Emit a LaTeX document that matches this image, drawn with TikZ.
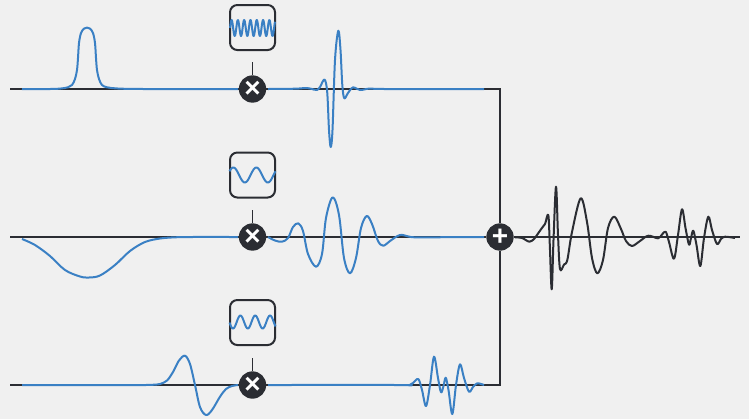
\documentclass[tikz,border=0pt]{standalone}
\usepackage{fontspec}
\setmainfont{Liberation Sans}
\usetikzlibrary{backgrounds}
\definecolor{bgc}{HTML}{F0F0F0}
\definecolor{ink}{HTML}{2B2D33}
\definecolor{wave}{HTML}{3A80C4}
\tikzset{
  opnode/.style={circle,fill=ink,text=white,inner sep=0pt,minimum size=20.5pt,font=\fontsize{21}{21}\bfseries},
  carrier/.style={draw=ink,line width=1.5pt,rounded corners=5.5pt,minimum size=33.75pt,inner sep=0pt,fill=bgc},
  wire/.style={draw=ink,line width=1.4pt},
  sig/.style={draw=wave,line width=1.5pt,line join=round,smooth,tension=0.55},
  outsig/.style={draw=ink,line width=1.5pt,line join=round,smooth,tension=0.55},
  carr/.style={draw=wave,line width=1.5pt,line join=round,smooth}
}
\begin{document}
\begin{tikzpicture}[x=0.75pt,y=-0.75pt]
\useasboundingbox (0,0) rectangle (749,419);
\node[carrier] (c1) at (252.5,27.5) {};
\node[carrier] (c2) at (252.5,175) {};
\node[carrier] (c3) at (252.5,322.5) {};
\draw[carr,domain=0:45,samples=140] plot ({230+\x},{28-8*sin(57.14*\x)});
\draw[carr,domain=0:46,samples=60] plot ({229.5+\x},{175-7.5*sin(15.65*\x+30)});
\draw[carr,domain=0:46,samples=80] plot ({229.5+\x},{322+6.5*cos(24.3*(\x-3.5))});
\node[opnode] (m1) at (252.5,89) {×};
\node[opnode] (m2) at (252.5,237) {×};
\node[opnode] (m3) at (252.5,385) {×};
\node[opnode] (sum) at (500,237) {+};
\coordinate (i1) at (10,89);
\coordinate (i2) at (10,237);
\coordinate (i3) at (10,385);
\coordinate (o) at (740,237);
\coordinate (corner1) at (500,89);
\coordinate (corner3) at (500,385);
\coordinate (s1) at (252.5,62);
\coordinate (s2) at (252.5,210);
\coordinate (s3) at (252.5,358);
\begin{scope}[on background layer]
\fill[bgc] (0,0) rectangle (749,419);
\draw[wire] (i1) -- (m1) -- (corner1) -- (sum);
\draw[wire] (i2) -- (m2) -- (sum) -- (o);
\draw[wire] (i3) -- (m3) -- (corner3) -- (sum);
\draw[wire] (s1) -- (m1);
\draw[wire] (s2) -- (m2);
\draw[wire] (s3) -- (m3);
% input pulses
\draw[sig] plot coordinates {(22,89)(50,89)(60,88.6)(68,87.3)(72,85)(75,79)(77,70)(78,58)(79,43)(81,33)(84,28.6)(87,27.6)(90,28.6)(93,33)(95,43)(96,58)(97,70)(99,79)(102,85)(107,87.3)(116,88.4)(130,88.9)(150,89)(238,89)};
\draw[sig] plot coordinates {(22,239)(35,245)(50,256)(65,270)(80,276.5)(89,277.5)(100,275.5)(115,265)(130,251)(145,242)(160,238.5)(175,237.3)(190,237)(238,237)};
\draw[sig] plot coordinates {(22,385)(140,385)(152,384.8)(160,384)(167,380.5)(173,372)(179,360.5)(185,355.7)(190,364)(195,385)(200,407)(206,415)(212,410)(220,396.7)(226,389)(232,386)(238,385)};
% modulated signals
\draw[sig] plot coordinates {(268,89)(295,88.7)(307,88)(314,89.6)(317,90)(320,87)(324.5,79.5)(327.2,92)(329,130)(330.7,147)(332.5,130)(335,60)(338.3,30.7)(340.5,50)(342.3,85)(344.3,98.3)(348,93)(353,87.4)(360,90)(370,88.5)(385,89)(484,89)};
\draw[sig] plot coordinates {(268,237)(275,240.5)(282,241.7)(288,238)(293,227)(298.3,223.3)(303,231)(308,254)(316,266.7)(322,254)(326,218)(332.7,197.3)(339,215)(344,258)(350,273.3)(356,258)(361,228)(366.7,216)(372,224)(378,241)(383.3,245.7)(390,241)(400,235)(410,236.8)(420,237.3)(484,237)};
\draw[sig] plot coordinates {(268,385)(400,385)(409,385.4)(413,383)(418.3,379)(422,390)(426,406)(430,385)(434,356.7)(438,378)(441,392.3)(443.5,386)(445.7,377.7)(448.5,390)(452.3,414)(456,385)(460,364.3)(464,378)(469,391.7)(473,387)(477.3,383.3)(484,385)};
% sum
\draw[outsig] plot coordinates {(515,237.3)(522,238)(529.3,241.7)(534,239)(537,235)(541.7,228.3)(545,224)(548.3,215)(549.8,245)(551.7,289.3)(553.5,240)(556,186.7)(558,235)(560,269)(564,264.5)(567.3,260)(572,232)(580.7,198.3)(587,222)(592,258)(597.3,273.3)(603,260)(608,228)(614.3,216.7)(621,229)(626,241)(632,246)(640,241)(648.3,235.7)(658,238.3)(662,234.5)(665.7,231.7)(669,242)(674,258.7)(678,235)(682,209.3)(685.5,228)(689,244.7)(691,238)(693.3,230.7)(696.5,245)(700.3,266)(704,238)(708.3,216.7)(712,230)(717,244)(721,239)(725,236.7)(735,238)};
\end{scope}
\end{tikzpicture}
\end{document}
